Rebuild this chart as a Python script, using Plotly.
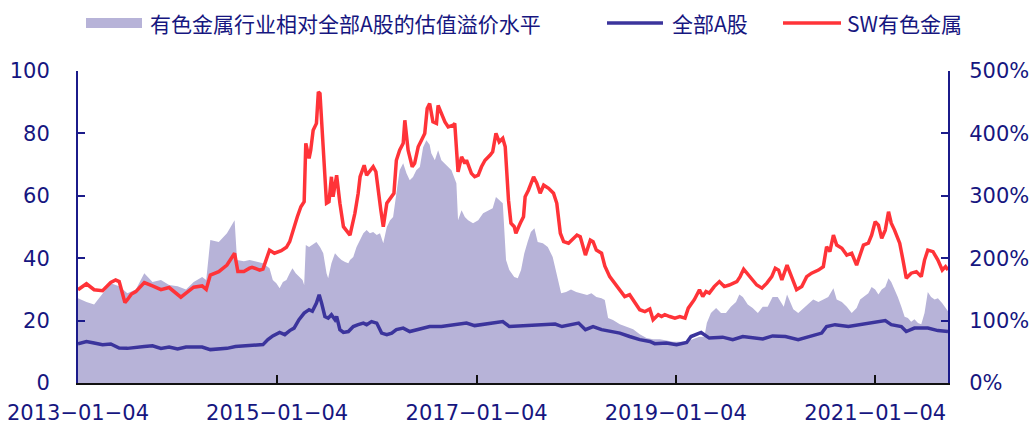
import plotly.graph_objects as go

# 有色金属行业相对全部A股的估值溢价水平 (%, right axis)
premium_dates = [
    "2013-01-04", "2013-02-04", "2013-03-04", "2013-04-04", "2013-05-04", "2013-06-04",
    "2013-07-04", "2013-08-04", "2013-09-04", "2013-10-04", "2013-11-04", "2013-12-04",
    "2014-01-04", "2014-02-04", "2014-03-04", "2014-04-04", "2014-04-19", "2014-05-04",
    "2014-06-04", "2014-07-04", "2014-08-01", "2014-08-10", "2014-09-04", "2014-09-25",
    "2014-10-19", "2014-11-13", "2014-12-07", "2014-12-19", "2015-01-01", "2015-01-13",
    "2015-01-25", "2015-02-07", "2015-02-19", "2015-03-01", "2015-03-13", "2015-03-25",
    "2015-04-07", "2015-04-13", "2015-04-19", "2015-05-01", "2015-05-13", "2015-05-28",
    "2015-06-10", "2015-06-22", "2015-07-04", "2015-07-10", "2015-07-22", "2015-08-04",
    "2015-08-16", "2015-08-28", "2015-09-10", "2015-09-22", "2015-09-28", "2015-10-10",
    "2015-10-22", "2015-11-04", "2015-11-16", "2015-11-28", "2015-12-10", "2015-12-22",
    "2016-01-04", "2016-01-16", "2016-01-28", "2016-02-10", "2016-02-22", "2016-03-04",
    "2016-03-16", "2016-03-28", "2016-04-10", "2016-04-22", "2016-05-04", "2016-05-16",
    "2016-05-28", "2016-06-10", "2016-06-22", "2016-07-04", "2016-07-16", "2016-07-22",
    "2016-08-04", "2016-08-16", "2016-08-28", "2016-09-10", "2016-09-22", "2016-10-04",
    "2016-10-16", "2016-10-22", "2016-10-28", "2016-11-10", "2016-11-22", "2016-12-04",
    "2016-12-22", "2017-01-10", "2017-01-28", "2017-02-16", "2017-03-04", "2017-03-16",
    "2017-03-28", "2017-04-10", "2017-04-22", "2017-05-04", "2017-05-22", "2017-06-04",
    "2017-06-16", "2017-06-28", "2017-07-10", "2017-07-22", "2017-08-04", "2017-08-16",
    "2017-09-04", "2017-09-22", "2017-10-10", "2017-10-28", "2017-11-10", "2017-11-28",
    "2017-12-16", "2018-01-04", "2018-01-22", "2018-02-13", "2018-03-01", "2018-03-19",
    "2018-04-07", "2018-04-19", "2018-05-01", "2018-05-19", "2018-06-13", "2018-07-07",
    "2018-08-01", "2018-08-25", "2018-09-19", "2018-10-13", "2018-11-07", "2018-12-01",
    "2018-12-25", "2019-01-19", "2019-02-13", "2019-03-07", "2019-04-01", "2019-04-19",
    "2019-04-28", "2019-05-13", "2019-06-01", "2019-06-19", "2019-07-07", "2019-07-25",
    "2019-08-13", "2019-08-25", "2019-09-07", "2019-09-25", "2019-10-13", "2019-11-01",
    "2019-11-19", "2019-12-07", "2019-12-25", "2020-01-13", "2020-02-04", "2020-02-16",
    "2020-02-28", "2020-03-10", "2020-03-28", "2020-04-16", "2020-05-04", "2020-05-22",
    "2020-06-10", "2020-06-28", "2020-07-16", "2020-08-04", "2020-08-16", "2020-09-04",
    "2020-09-22", "2020-10-10", "2020-10-28", "2020-11-10", "2020-11-22", "2020-12-10",
    "2020-12-22", "2021-01-04", "2021-01-16", "2021-01-28", "2021-02-10", "2021-02-22",
    "2021-03-04", "2021-03-16", "2021-03-28", "2021-04-10", "2021-04-22", "2021-05-04",
    "2021-05-16", "2021-05-28", "2021-06-10", "2021-06-22", "2021-07-04", "2021-07-16",
    "2021-07-28", "2021-08-10", "2021-08-22", "2021-09-07", "2021-09-19", "2021-09-28",
]
premium_pct = [
    136, 130, 126, 144, 160, 155,
    144, 150, 176, 162, 165, 157,
    155, 150, 162, 170, 165, 229,
    226, 240, 261, 197, 195, 197,
    195, 192, 184, 165, 160, 152,
    162, 165, 176, 184, 176, 170,
    165, 157, 221, 218, 221, 226,
    218, 208, 176, 168, 192, 208,
    202, 197, 194, 192, 197, 202,
    218, 229, 240, 245, 240, 242,
    237, 240, 224, 250, 261, 266,
    304, 341, 352, 336, 325, 330,
    341, 346, 378, 389, 382, 368,
    357, 373, 357, 352, 346, 341,
    328, 320, 261, 277, 266, 261,
    256, 261, 272, 277, 280, 298,
    293, 288, 197, 181, 170, 168,
    181, 208, 226, 242, 248, 226,
    224, 218, 202, 165, 144, 146,
    150, 146, 144, 141, 144, 138,
    136, 133, 104, 101, 94, 90,
    86, 78, 72, 70, 70, 68,
    66, 66, 66, 70, 74, 74,
    96, 112, 120, 112, 112, 122,
    130, 142, 138, 126, 120, 112,
    122, 122, 138, 138, 122, 142,
    130, 118, 112, 120, 126, 134,
    130, 134, 138, 152, 134, 130,
    122, 112, 120, 134, 138, 144,
    154, 150, 142, 150, 154, 168,
    162, 150, 138, 122, 106, 104,
    98, 102, 96, 94, 112, 146,
    138, 134, 136, 128, 120, 115,
]

# 全部A股 (left axis)
a_share_dates = [
    "2013-01-04", "2013-02-04", "2013-03-04", "2013-04-04", "2013-05-04", "2013-06-04",
    "2013-07-04", "2013-08-04", "2013-09-04", "2013-10-04", "2013-11-04", "2013-12-04",
    "2014-01-04", "2014-02-04", "2014-03-04", "2014-04-04", "2014-05-04", "2014-06-04",
    "2014-07-04", "2014-08-04", "2014-09-04", "2014-10-04", "2014-11-13", "2014-12-01",
    "2014-12-19", "2015-01-13", "2015-02-01", "2015-02-19", "2015-03-07", "2015-03-25",
    "2015-04-13", "2015-05-01", "2015-05-13", "2015-05-28", "2015-06-07", "2015-06-16",
    "2015-06-28", "2015-07-10", "2015-07-22", "2015-08-04", "2015-08-10", "2015-08-22",
    "2015-09-04", "2015-09-22", "2015-10-10", "2015-10-28", "2015-11-16", "2015-11-28",
    "2015-12-16", "2016-01-04", "2016-01-22", "2016-02-10", "2016-02-28", "2016-03-16",
    "2016-04-10", "2016-05-04", "2016-05-28", "2016-06-22", "2016-07-16", "2016-08-28",
    "2016-10-28", "2016-11-28", "2016-12-28", "2017-02-28", "2017-04-10", "2017-05-04",
    "2017-07-01", "2017-09-01", "2017-10-19", "2017-11-13", "2018-01-13", "2018-02-07",
    "2018-03-07", "2018-04-07", "2018-05-07", "2018-06-13", "2018-07-19", "2018-08-25",
    "2018-10-01", "2018-10-19", "2018-12-01", "2019-01-07", "2019-02-13", "2019-03-01",
    "2019-04-07", "2019-05-07", "2019-06-25", "2019-08-01", "2019-09-07", "2019-10-13",
    "2019-11-19", "2019-12-25", "2020-02-10", "2020-03-28", "2020-05-04", "2020-06-22",
    "2020-07-10", "2020-08-10", "2020-09-28", "2020-10-22", "2020-11-16", "2020-12-22",
    "2021-01-16", "2021-02-10", "2021-03-04", "2021-04-10", "2021-04-28", "2021-05-28",
    "2021-07-16", "2021-08-22", "2021-09-28",
]
a_share = [
    12.6, 13.3, 12.8, 12.3, 12.5, 11.2,
    11.1, 11.5, 11.7, 11.9, 11.1, 11.5,
    10.9, 11.5, 11.4, 11.5, 10.7, 10.8,
    11.1, 11.7, 11.9, 12.2, 12.3, 13.9,
    15.1, 16.2, 15.5, 16.8, 17.6, 20.3,
    22.4, 23.5, 23.0, 25.6, 28.3, 25.6,
    21.3, 20.8, 21.9, 20.3, 21.3, 17.1,
    16.2, 16.5, 18.1, 18.7, 19.2, 18.7,
    19.7, 19.2, 16.0, 15.5, 16.0, 17.1,
    17.6, 16.5, 17.1, 17.6, 18.1, 18.1,
    18.7, 19.2, 18.4, 19.2, 19.7, 18.1,
    18.4, 18.9, 18.9, 18.1, 19.2, 17.1,
    18.1, 17.1, 16.5, 16.0, 14.9, 13.9,
    13.3, 12.6, 12.8, 12.3, 13.0, 14.9,
    16.2, 14.4, 14.7, 13.9, 14.9, 14.4,
    14.1, 15.1, 14.9, 13.9, 14.9, 16.0,
    18.1, 18.7, 18.1, 18.4, 18.7, 19.2,
    19.7, 20.0, 18.7, 18.1, 16.5, 17.6,
    17.6, 16.8, 16.5,
]

# SW有色金属 (left axis)
sw_metal_dates = [
    "2013-01-04", "2013-02-04", "2013-03-04", "2013-04-04", "2013-05-04", "2013-05-22",
    "2013-06-04", "2013-06-25", "2013-07-04", "2013-07-19", "2013-08-04", "2013-09-04",
    "2013-10-04", "2013-11-04", "2013-12-04", "2014-01-04", "2014-01-16", "2014-02-04",
    "2014-03-04", "2014-04-04", "2014-04-19", "2014-05-04", "2014-06-04", "2014-07-04",
    "2014-08-01", "2014-08-13", "2014-09-04", "2014-09-25", "2014-10-04", "2014-11-01",
    "2014-11-13", "2014-12-07", "2014-12-25", "2015-01-19", "2015-02-07", "2015-02-19",
    "2015-03-01", "2015-03-19", "2015-04-01", "2015-04-13", "2015-04-19", "2015-05-01",
    "2015-05-07", "2015-05-16", "2015-05-28", "2015-06-04", "2015-06-10", "2015-06-22",
    "2015-07-04", "2015-07-13", "2015-07-22", "2015-07-28", "2015-08-10", "2015-08-22",
    "2015-09-04", "2015-09-28", "2015-10-16", "2015-10-28", "2015-11-04", "2015-11-19",
    "2015-11-28", "2015-12-22", "2016-01-01", "2016-01-19", "2016-01-28", "2016-02-10",
    "2016-02-28", "2016-03-07", "2016-03-16", "2016-03-28", "2016-04-10", "2016-04-16",
    "2016-04-28", "2016-05-13", "2016-05-22", "2016-06-04", "2016-06-16", "2016-06-28",
    "2016-07-07", "2016-07-16", "2016-07-28", "2016-08-10", "2016-08-16", "2016-08-28",
    "2016-09-10", "2016-09-22", "2016-10-10", "2016-10-16", "2016-10-22", "2016-10-28",
    "2016-11-10", "2016-11-22", "2016-11-28", "2016-12-16", "2016-12-28", "2017-01-10",
    "2017-01-22", "2017-02-04", "2017-02-22", "2017-03-04", "2017-03-16", "2017-03-28",
    "2017-04-10", "2017-04-19", "2017-05-01", "2017-05-10", "2017-05-22", "2017-05-28",
    "2017-06-13", "2017-06-25", "2017-07-01", "2017-07-13", "2017-08-01", "2017-08-13",
    "2017-08-25", "2017-09-07", "2017-09-25", "2017-10-13", "2017-10-25", "2017-11-07",
    "2017-11-19", "2017-12-07", "2018-01-07", "2018-01-19", "2018-02-07", "2018-02-25",
    "2018-03-07", "2018-03-19", "2018-04-07", "2018-04-19", "2018-05-07", "2018-05-25",
    "2018-06-13", "2018-07-01", "2018-07-19", "2018-08-07", "2018-08-25", "2018-09-13",
    "2018-10-01", "2018-10-13", "2018-11-01", "2018-11-13", "2018-11-25", "2018-12-13",
    "2019-01-01", "2019-01-19", "2019-02-07", "2019-02-19", "2019-03-13", "2019-04-01",
    "2019-04-13", "2019-04-25", "2019-05-07", "2019-05-25", "2019-06-13", "2019-07-01",
    "2019-07-19", "2019-08-16", "2019-08-28", "2019-09-10", "2019-09-22", "2019-10-10",
    "2019-10-28", "2019-11-16", "2019-12-04", "2019-12-22", "2020-01-04", "2020-01-16",
    "2020-01-28", "2020-02-16", "2020-02-28", "2020-03-10", "2020-03-22", "2020-04-10",
    "2020-04-28", "2020-05-16", "2020-06-10", "2020-06-28", "2020-07-10", "2020-07-22",
    "2020-08-04", "2020-08-16", "2020-09-04", "2020-09-22", "2020-10-10", "2020-10-28",
    "2020-11-10", "2020-11-22", "2020-12-10", "2020-12-22", "2021-01-04", "2021-01-16",
    "2021-01-28", "2021-02-10", "2021-02-22", "2021-03-04", "2021-03-16", "2021-04-04",
    "2021-04-16", "2021-04-28", "2021-05-16", "2021-06-04", "2021-06-22", "2021-07-04",
    "2021-07-16", "2021-08-04", "2021-08-22", "2021-09-07", "2021-09-19", "2021-09-28",
]
sw_metal = [
    29.9, 31.8, 29.9, 29.6, 32.2, 33.0,
    32.5, 25.8, 26.7, 28.5, 29.3, 32.2,
    31.1, 29.9, 30.6, 28.3, 27.5, 28.8,
    30.7, 31.1, 30.0, 34.6, 35.7, 37.8,
    41.6, 35.7, 35.7, 36.8, 37.1, 36.2,
    36.5, 42.6, 41.6, 42.4, 43.5, 45.3,
    48.5, 53.3, 56.5, 58.1, 76.8, 72.0,
    74.6, 81.0, 83.2, 93.3, 92.8, 73.6,
    57.6, 58.1, 66.1, 59.7, 66.6, 57.6,
    50.1, 47.4, 54.4, 60.8, 66.1, 69.8,
    66.6, 69.3, 67.7, 55.4, 50.1, 57.6,
    59.7, 60.8, 71.4, 74.6, 76.8, 84.2,
    74.6, 69.3, 70.4, 75.7, 77.8, 80.0,
    88.0, 89.6, 83.7, 83.2, 89.0, 86.4,
    83.7, 82.1, 82.6, 83.2, 76.8, 67.7,
    72.5, 70.4, 71.4, 67.2, 66.1, 66.6,
    69.3, 71.4, 73.0, 74.1, 80.0, 77.3,
    78.4, 75.7, 58.6, 51.2, 50.1, 48.0,
    51.2, 53.3, 59.7, 61.8, 66.1, 64.0,
    60.8, 63.4, 62.4, 60.8, 57.6, 48.0,
    45.3, 44.8, 47.4, 46.9, 41.0, 45.8,
    45.3, 42.6, 41.6, 37.5, 34.1, 32.0,
    29.9, 27.7, 28.3, 25.6, 23.5, 22.9,
    23.7, 20.3, 21.9, 21.3, 21.9, 21.3,
    20.8, 21.3, 20.8, 24.0, 26.7, 29.9,
    27.7, 29.3, 28.8, 30.9, 32.5, 30.9,
    31.4, 32.5, 34.1, 36.5, 35.2, 33.0,
    31.4, 30.4, 32.0, 34.1, 36.8, 36.2,
    33.0, 37.8, 35.2, 32.5, 29.9, 30.9,
    34.1, 35.2, 36.2, 37.3, 43.7, 42.1,
    47.4, 44.2, 43.2, 41.0, 41.6, 37.8,
    41.0, 44.2, 44.8, 47.4, 51.7, 50.6,
    46.4, 49.0, 54.9, 51.2, 49.0, 44.8,
    39.4, 33.6, 35.2, 35.7, 34.1, 39.4,
    42.6, 42.1, 39.4, 36.2, 37.3, 36.2,
]

series_names = ["有色金属行业相对全部A股的估值溢价水平", "全部A股", "SW有色金属"]

# x-axis labels
tick_dates = ["2013-01-04", "2015-01-04", "2017-01-04", "2019-01-04", "2021-01-04"]
tick_labels = ["2013−01−04", "2015−01−04", "2017−01−04", "2019−01−04", "2021−01−04"]

NAVY_TEXT = "#161680"
AXIS_NAVY = "#1b1b8a"
AREA = "#B7B3D8"
LINE_NAVY = "#3B349C"
RED = "#FF3338"

W, H = 1030, 426
M_L, M_R, M_T, M_B = 78, 82, 71, 43
PLOT_W = W - M_L - M_R
PLOT_H = H - M_T - M_B


def px_x(px):
    """Pixel column -> paper x."""
    return (px - M_L) / PLOT_W


def px_y(py):
    """Pixel row (from top) -> paper y."""
    return (H - M_B - py) / PLOT_H


fig = go.Figure()

# premium area sits on the primary (right-hand) axis so the lines draw above it
fig.add_trace(go.Scatter(
    x=premium_dates, y=premium_pct, name=series_names[0],
    mode="lines", line=dict(width=0, color=AREA), fill="tozeroy", fillcolor=AREA,
    yaxis="y",
))
fig.add_trace(go.Scatter(
    x=a_share_dates, y=a_share, name=series_names[1],
    mode="lines", line=dict(width=3.5, color=LINE_NAVY), yaxis="y2",
))
fig.add_trace(go.Scatter(
    x=sw_metal_dates, y=sw_metal, name=series_names[2],
    mode="lines", line=dict(width=3.5, color=RED), yaxis="y2",
))

# legend row across the top
legend_font = dict(family="Noto Sans CJK SC", size=21, color=NAVY_TEXT)
shapes = [
    dict(type="rect", xref="paper", yref="paper",
         x0=px_x(86), x1=px_x(142), y0=px_y(28), y1=px_y(18),
         fillcolor=AREA, line=dict(width=0)),
    dict(type="line", xref="paper", yref="paper",
         x0=px_x(607), x1=px_x(663), y0=px_y(23), y1=px_y(23),
         line=dict(color=LINE_NAVY, width=3.5)),
    dict(type="line", xref="paper", yref="paper",
         x0=px_x(783), x1=px_x(841), y0=px_y(23), y1=px_y(23),
         line=dict(color=RED, width=3.5)),
]
annotations = [
    dict(text=name, xref="paper", yref="paper", x=px_x(x0), y=px_y(23),
         xanchor="left", yanchor="middle", showarrow=False, font=legend_font)
    for name, x0 in zip(series_names, [148, 670, 845])
]

tick_font = dict(family="DejaVu Sans", size=21, color=NAVY_TEXT)

fig.update_layout(
    width=W, height=H,
    margin=dict(l=M_L, r=M_R, t=M_T, b=M_B, autoexpand=False),
    paper_bgcolor="white", plot_bgcolor="white",
    showlegend=False,
    shapes=shapes, annotations=annotations,
    xaxis=dict(
        type="date", range=["2013-01-04", "2021-09-28"],
        tickvals=tick_dates, ticktext=tick_labels,
        ticks="inside", ticklen=8, tickwidth=2, tickcolor="#111111",
        showline=True, linecolor="#111111", linewidth=2,
        showgrid=False, zeroline=False, tickfont=tick_font,
        ticklabelstandoff=10, automargin=False,
    ),
    yaxis=dict(
        side="right", range=[0, 500], tickvals=[0, 100, 200, 300, 400, 500],
        ticktext=["0%", "100%", "200%", "300%", "400%", "500%"],
        ticks="inside", ticklen=7, tickwidth=2, tickcolor=AXIS_NAVY,
        showline=True, linecolor=AXIS_NAVY, linewidth=2,
        showgrid=False, zeroline=False, tickfont=tick_font,
        ticklabelstandoff=15, automargin=False,
    ),
    yaxis2=dict(
        side="left", overlaying="y", range=[0, 100], tickvals=[0, 20, 40, 60, 80, 100],
        ticks="inside", ticklen=7, tickwidth=2, tickcolor=AXIS_NAVY,
        showline=True, linecolor=AXIS_NAVY, linewidth=2,
        showgrid=False, zeroline=False, tickfont=tick_font,
        ticklabelstandoff=22, automargin=False,
    ),
)

fig.write_html("out.html")
